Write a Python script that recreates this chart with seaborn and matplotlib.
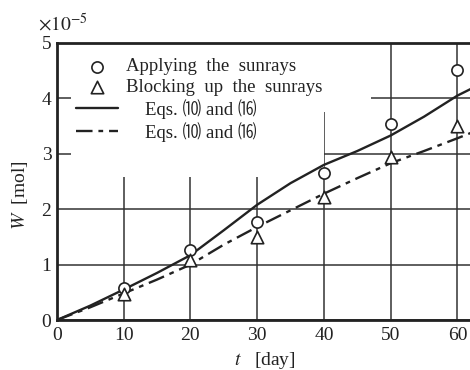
import matplotlib
matplotlib.use("Agg")
import matplotlib.pyplot as plt
import seaborn as sns
import pandas as pd
from matplotlib.patches import Rectangle

# ---- data ----
days = [10, 20, 30, 40, 50, 60]
w_sun = [0.58, 1.26, 1.77, 2.65, 3.53, 4.52]
w_block = [0.47, 1.08, 1.50, 2.22, 2.95, 3.50]
t_eq = [0, 5, 10, 15, 20, 25, 30, 35, 40, 45, 50, 55, 60, 62.5]
w_eq_sun = [0, 0.26, 0.55, 0.85, 1.17, 1.62, 2.08, 2.47, 2.80, 3.05, 3.33, 3.67, 4.05, 4.20]
w_eq_block = [0, 0.23, 0.48, 0.73, 1.00, 1.36, 1.68, 1.98, 2.28, 2.56, 2.83, 3.05, 3.28, 3.40]
x_ticks = [0, 10, 20, 30, 40, 50, 60]
y_ticks = [0, 1, 2, 3, 4, 5]
labels = ["Applying  the  sunrays", "Blocking  up  the  sunrays",
          "    Eqs. \u247d and \u2483", "    Eqs. \u247d and \u2483"]

sns.set_style("white")
plt.rcParams["font.family"] = ["Liberation Serif", "Noto Sans CJK JP", "DejaVu Sans"]
plt.rcParams["mathtext.fontset"] = "stix"

ink = "#222222"
fig = plt.figure(figsize=(4.7, 3.7), dpi=100)
ax = fig.add_axes([0.121, 0.135, 0.885, 0.749])

df_pts = pd.DataFrame({"t": days, "sun": w_sun, "block": w_block})
df_eq = pd.DataFrame({"t": t_eq, "sun": w_eq_sun, "block": w_eq_block})

sns.lineplot(data=df_eq, x="t", y="sun", ax=ax, color=ink, lw=1.7,
             label=labels[2], zorder=2, sort=False)
sns.lineplot(data=df_eq, x="t", y="block", ax=ax, color=ink, lw=1.7,
             linestyle=(0, (7, 2.5, 2, 2.5)), label=labels[3], zorder=2, sort=False)
sns.scatterplot(data=df_pts, x="t", y="sun", ax=ax, marker="o", s=65,
                facecolor="white", edgecolor=ink, linewidth=1.2,
                label=labels[0], zorder=3)
sns.scatterplot(data=df_pts, x="t", y="block", ax=ax, marker="^", s=80,
                facecolor="white", edgecolor=ink, linewidth=1.2,
                label=labels[1], zorder=3)

ax.set_xlim(0, 62.3)
ax.set_ylim(0, 5)
ax.set_xticks(x_ticks)
ax.set_yticks(y_ticks)
ax.tick_params(length=0, labelsize=14, colors=ink)
ax.tick_params(axis="x", pad=5)
ax.tick_params(axis="y", pad=4)
ax.set_axisbelow(True)
ax.grid(True, color="#333333", lw=1.1)

for side in ["left", "bottom", "top"]:
    ax.spines[side].set_color(ink)
    ax.spines[side].set_linewidth(2.0)
ax.spines["right"].set_visible(False)

# white areas behind the legend (as in the printed figure)
ax.add_patch(Rectangle((0.035, 0.751), 0.72, 0.26, transform=ax.transAxes,
                       facecolor="white", edgecolor="none", zorder=1))
ax.add_patch(Rectangle((0.035, 0.516), 0.607, 0.5, transform=ax.transAxes,
                       facecolor="white", edgecolor="none", zorder=1))

ax.set_xlabel(r"$t$   [day]", fontsize=14, color=ink, labelpad=4)
ax.set_ylabel(r"$W$  [mol]", fontsize=14, color=ink)
ax.yaxis.set_label_coords(-0.065, 0.45)
ax.text(-0.045, 1.03, r"$\times 10^{-5}$", transform=ax.transAxes,
        fontsize=14, color=ink, ha="left", va="bottom")

h, l = ax.get_legend_handles_labels()
order = [2, 3, 0, 1]
leg = ax.legend([h[i] for i in order], [l[i] for i in order],
                loc="upper left", bbox_to_anchor=(0.02, 0.985), frameon=False,
                fontsize=13.5, labelspacing=0.175, handlelength=2.2,
                handletextpad=0.45, borderaxespad=0.2)
for t in leg.get_texts():
    t.set_color(ink)
leg.set_zorder(5)

fig.savefig("out.png", dpi=100)
